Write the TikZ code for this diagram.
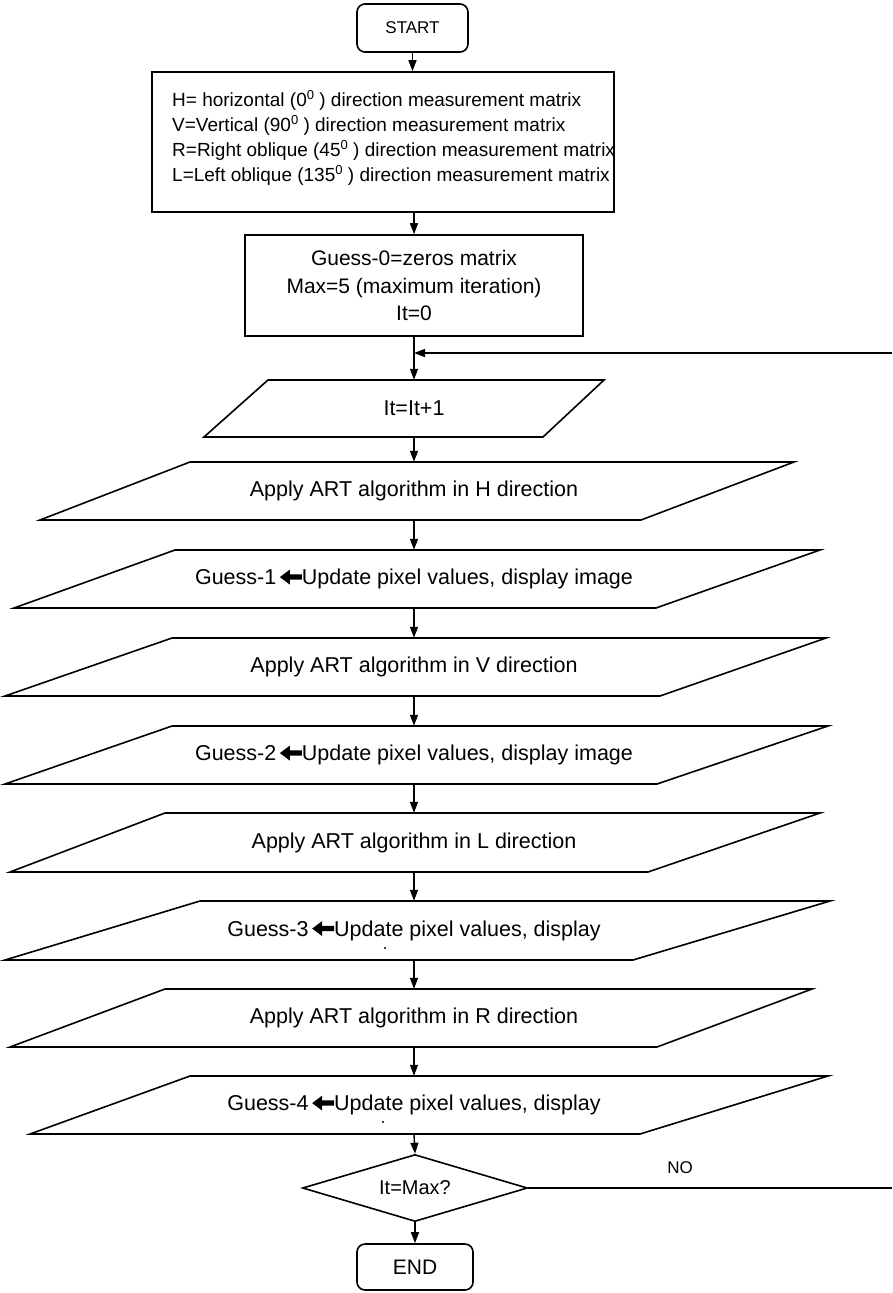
\documentclass[tikz,border=0pt]{standalone}
\usepackage{fontspec}
\setmainfont{Liberation Sans}
\usetikzlibrary{arrows.meta,shapes.geometric}
\newcommand{\harr}{\tikz[baseline=-7.5pt,x=1pt,y=1pt]{\fill (0,0) -- (10,7.5) -- (10,2.6) -- (22,2.6) -- (22,-2.6) -- (10,-2.6) -- (10,-7.5) -- cycle;}}
\newcommand{\sps}{\raisebox{0.62ex}{\fontsize{13}{13}\selectfont 0}}
\newcommand{\parabox}[8]{%
  \draw[shp] (#2,#6) -- (#3,#6) -- (#5,#7) -- (#4,#7) -- cycle;
  \node[lbl, minimum height={(#7-#6)*1pt}] (#1) at (414,{(#6+#7)/2}) {#8};}
\begin{document}
\begin{tikzpicture}[x=1pt,y=-1pt, line join=miter,
  shp/.style={draw, line width=1.6pt},
  boxn/.style={draw, line width=1.6pt, inner sep=0pt},
  term/.style={draw, line width=1.6pt, rounded corners=8pt, inner sep=0pt},
  arr/.style={line width=1.4pt, -{Triangle[length=11pt,width=8pt]}},
  conn/.style={line width=1.4pt},
  lbl/.style={font=\fontsize{21.5}{25}\selectfont, inner sep=0pt},
  dotm/.style={fill, circle, inner sep=0pt, minimum size=2.4pt}]
\useasboundingbox (0,0) rectangle (892,1293);

\node[term, minimum width=111pt, minimum height=48pt, font=\fontsize{17}{20}\selectfont] (start) at (412.5,28) {START};

\node[boxn, minimum width=462pt, minimum height=140pt] (b1) at (383,142) {};
\node[lbl, anchor=west, align=left, font=\fontsize{19}{25}\selectfont] (b1t) at (172,138)
 {H= horizontal (0\sps\ ) direction measurement matrix\\
  V=Vertical (90\sps\ ) direction measurement matrix\\
  R=Right oblique (45\sps\ ) direction measurement matrix\\
  L=Left oblique (135\sps\ ) direction measurement matrix};

\node[boxn, minimum width=338pt, minimum height=101pt, align=center, font=\fontsize{21}{27.5}\selectfont] (b2) at (414,285.5)
 {Guess-0=zeros matrix\\Max=5 (maximum iteration)\\It=0};

\parabox{p0}{268}{604}{204}{543}{380}{437}{It=It+1}
\parabox{ph}{190}{794}{40}{641}{462}{520}{Apply ART algorithm in H direction}
\parabox{g1}{175}{820}{14}{656}{550}{608}{Guess-1\,\harr Update pixel values, display image}
\parabox{pv}{172}{826}{5}{660}{638}{696}{Apply ART algorithm in V direction}
\parabox{g2}{172}{828}{5}{657}{726}{784}{Guess-2\,\harr Update pixel values, display image}
\parabox{pl}{165}{820}{10}{648}{813}{872}{Apply ART algorithm in L direction}
\parabox{g3}{200}{830}{5}{633}{901}{960}{Guess-3\,\harr Update pixel values, display}
\parabox{pr}{165}{812}{10}{657}{989}{1047}{Apply ART algorithm in R direction}
\parabox{g4}{190}{828}{30}{640}{1076}{1134}{Guess-4\,\harr Update pixel values, display}

\node[dotm] (d3) at (385,948) {};
\node[dotm] (d4) at (383,1122) {};

\node[draw, line width=1.6pt, diamond, shape aspect=3.36, minimum width=225pt, minimum height=67pt, inner sep=0pt, font=\fontsize{20}{24}\selectfont] (dec) at (415,1188) {It=Max?};

\node[term, minimum width=116pt, minimum height=46pt, font=\fontsize{21}{24}\selectfont] (end) at (415,1267) {END};

\node[font=\fontsize{17}{20}\selectfont, inner sep=0pt] (no) at (680,1168) {NO};

\coordinate (lr) at (892,1188);
\coordinate (lt) at (892,353);

\draw[arr] (start.south) -- (start.south |- b1.north);
\draw[arr] (b2.north |- b1.south) -- (b2.north);
\draw[arr] (b2.south) -- (p0.north);
\draw[arr] (p0.south) -- (ph.north);
\draw[arr] (ph.south) -- (g1.north);
\draw[arr] (g1.south) -- (pv.north);
\draw[arr] (pv.south) -- (g2.north);
\draw[arr] (g2.south) -- (pl.north);
\draw[arr] (pl.south) -- (g3.north);
\draw[arr] (g3.south) -- (pr.north);
\draw[arr] (pr.south) -- (g4.north);
\draw[arr] (g4.south) -- (dec.north);
\draw[arr] (dec.south) -- (end.north);
\draw[conn] (dec.east) -- (lr);
\draw[arr] (lt) -- (lt -| b2.south);
\end{tikzpicture}
\end{document}
